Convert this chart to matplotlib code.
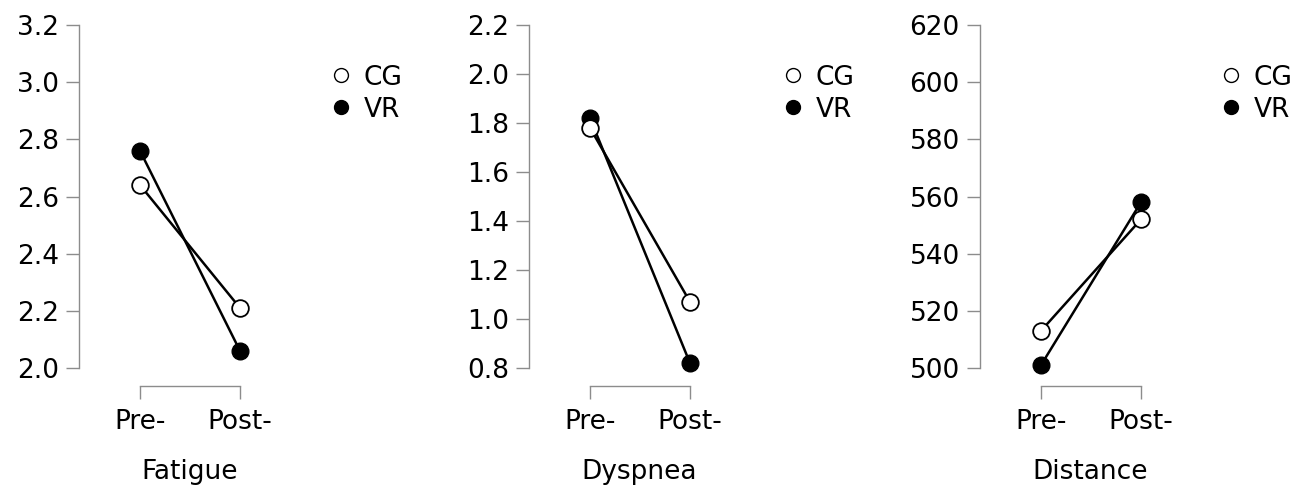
import numpy as np
import matplotlib
matplotlib.use("Agg")
import matplotlib.pyplot as plt
from matplotlib.lines import Line2D

# data
times = ["Pre-", "Post-"]
panels = ["Fatigue", "Dyspnea", "Distance"]
cg_fatigue = [2.64, 2.21]
vr_fatigue = [2.76, 2.06]
cg_dyspnea = [1.78, 1.07]
vr_dyspnea = [1.82, 0.82]
cg_distance = [513, 552]
vr_distance = [501, 558]
yticks_fatigue = [2.0, 2.2, 2.4, 2.6, 2.8, 3.0, 3.2]
yticks_dyspnea = [0.8, 1.0, 1.2, 1.4, 1.6, 1.8, 2.0, 2.2]
yticks_distance = [500, 520, 540, 560, 580, 600, 620]

cg_all = [cg_fatigue, cg_dyspnea, cg_distance]
vr_all = [vr_fatigue, vr_dyspnea, vr_distance]
ticks_all = [yticks_fatigue, yticks_dyspnea, yticks_distance]
fmts = ["{:.1f}", "{:.1f}", "{:.0f}"]

W, H = 1297, 486
fig = plt.figure(figsize=(W / 100, H / 100), dpi=100)
plt.rcParams['font.family'] = 'DejaVu Sans'

grey = "#8c8c8c"
lefts = [79, 529, 980]
top_px, bot_px = 25, 368
ax_w = 221
x = np.arange(len(times))
leg_x = [1.09, 1.10, 1.04]

for i in range(3):
    ax = fig.add_axes([lefts[i] / W, 1 - bot_px / H, ax_w / W, (bot_px - top_px) / H])
    yt = ticks_all[i]
    ax.plot(x, cg_all[i], color="black", lw=1.8, marker="o", ms=12,
            mfc="white", mec="black", mew=1.3, clip_on=False, zorder=3)
    ax.plot(x, vr_all[i], color="black", lw=1.8, marker="o", ms=12,
            mfc="black", mec="black", clip_on=False, zorder=2)
    ax.set_xlim(-0.61, 1.6)
    ax.set_ylim(yt[0], yt[-1])
    ax.set_yticks(yt)
    ax.set_yticklabels([fmts[i].format(v) for v in yt])
    ax.set_xticks(x)
    ax.set_xticklabels(times)
    for s in ["top", "right"]:
        ax.spines[s].set_visible(False)
    ax.spines["left"].set_bounds(yt[0], yt[-1])
    ax.spines["bottom"].set_bounds(0, 1)
    ax.spines["bottom"].set_position(("outward", 13))
    for s in ["left", "bottom"]:
        ax.spines[s].set_color(grey)
        ax.spines[s].set_linewidth(1.0)
    ax.tick_params(length=9.5, width=1.0, color=grey, labelsize=19, pad=5)
    ax.tick_params(axis="x", pad=7)
    ax.set_xlabel(panels[i], fontsize=19, labelpad=17)

    handles = [
        Line2D([], [], ls="none", marker="o", ms=10, mfc="white", mec="black", mew=1.0),
        Line2D([], [], ls="none", marker="o", ms=10, mfc="black", mec="black"),
    ]
    ax.legend(handles, ["CG", "VR"], loc="upper left", bbox_to_anchor=(leg_x[i], 0.915),
              frameon=False, fontsize=19, handlelength=0.8, handletextpad=0.45,
              labelspacing=0.22, borderaxespad=0)

fig.savefig("out.png", dpi=100)
